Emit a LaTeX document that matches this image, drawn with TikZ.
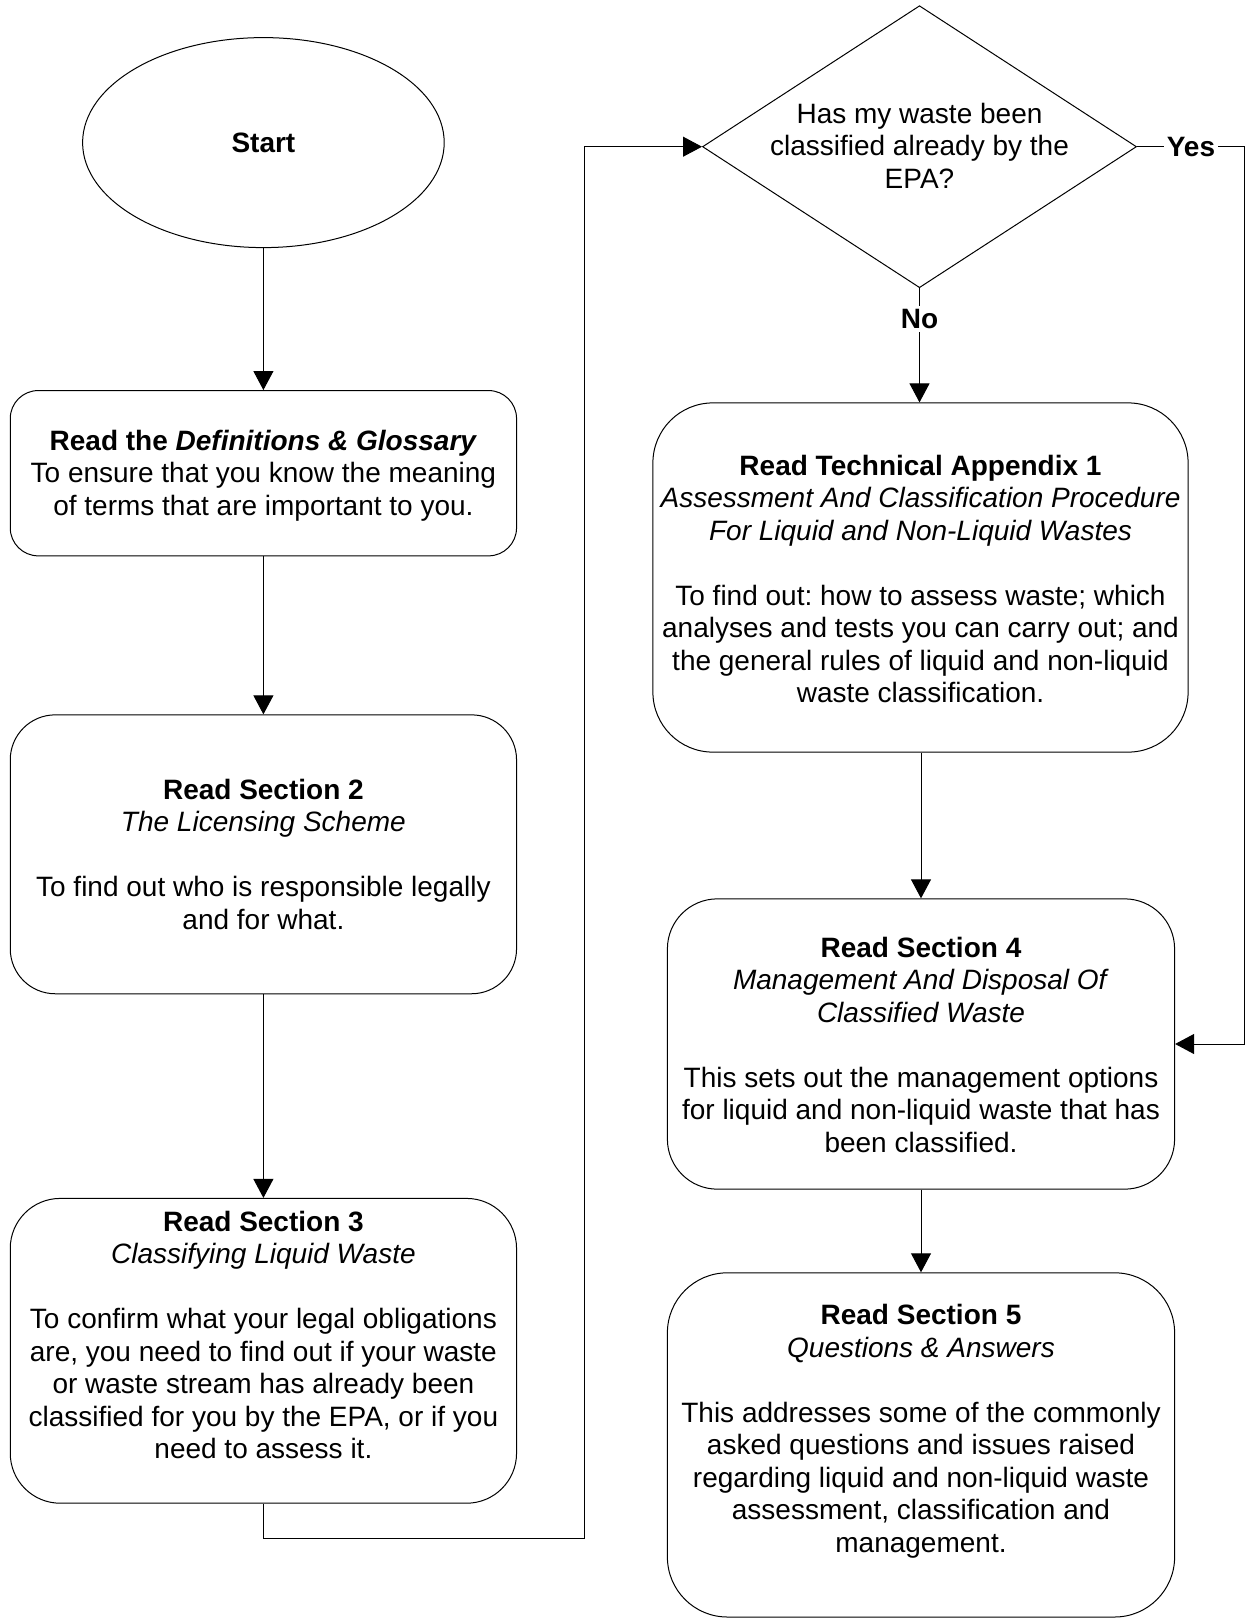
\documentclass[tikz,border=0pt]{standalone}
\usepackage{fontspec}
\setmainfont{Liberation Sans}
\usetikzlibrary{shapes.geometric,arrows.meta}
\frenchspacing
\begin{document}
\begin{tikzpicture}[x=1pt,y=-1pt,
  every node/.style={font=\fontsize{28}{32.5}\selectfont},
  stepbox/.style={draw=black,line width=1pt,rectangle,inner sep=0pt},
  txt/.style={align=center,inner sep=0pt},
  arr/.style={draw=black,line width=1pt,-{Triangle[length=19pt,width=20pt]}},
  lbl/.style={fill=white,inner sep=3pt,font=\fontsize{28}{32.5}\selectfont\bfseries}]
\useasboundingbox (0,0) rectangle (1247,1620);

% start terminal
\node[draw=black,line width=1pt,ellipse,inner sep=0pt,minimum width=361.6pt,minimum height=210pt,
      font=\fontsize{28}{32.5}\selectfont\bfseries] (start) at (263.4,142.6) {Start};

% left column
\node[stepbox,rounded corners=28pt,minimum width=506.3pt,minimum height=165.3pt] (b1) at (263.4,473.2) {};
\node[txt] (b1t) at (263.4,475.5) {\textbf{Read the \textit{Definitions \& Glossary}}\\
  To ensure that you know the meaning\\ of terms that are important to you.};

\node[stepbox,rounded corners=45pt,minimum width=506.3pt,minimum height=278.9pt] (b2) at (263.4,854.3) {};
\node[txt] (b2t) at (263.4,854) {\textbf{Read Section 2}\\ \textit{The Licensing Scheme}\\[32.5pt]
  To find out who is responsible legally\\ and for what.};

\node[stepbox,rounded corners=50pt,minimum width=506.3pt,minimum height=304.8pt] (b3) at (263.4,1350.8) {};
\node[txt] (b3t) at (263.4,1335) {\textbf{Read Section 3}\\ \textit{Classifying Liquid Waste}\\[32.5pt]
  To confirm what your legal obligations\\ are, you need to find out if your waste\\
  or waste stream has already been\\ classified for you by the EPA, or if you\\ need to assess it.};

% decision
\node[draw=black,line width=1pt,diamond,inner sep=0pt,minimum width=434pt,minimum height=282pt] (dia) at (919.5,146.7) {};
\node[txt] (diat) at (919.5,145.7) {Has my waste been\\ classified already by the\\ EPA?};

% right column
\node[stepbox,rounded corners=60pt,minimum width=535.2pt,minimum height=349.2pt] (ta) at (920.5,577.5) {};
\node[txt] (tat) at (920.5,579) {\textbf{Read Technical Appendix 1}\\
  \textit{Assessment And Classification Procedure}\\ \textit{For Liquid and Non-Liquid Wastes}\\[32.5pt]
  To find out: how to assess waste; which\\ analyses and tests you can carry out; and\\
  the general rules of liquid and non-liquid\\ waste classification.};

\node[stepbox,rounded corners=50pt,minimum width=507.2pt,minimum height=290.3pt] (b4) at (921,1044) {};
\node[txt] (b4t) at (921,1044.5) {\textbf{Read Section 4}\\ \textit{Management And Disposal Of}\\
  \textit{Classified Waste}\\[32.5pt]
  This sets out the management options\\ for liquid and non-liquid waste that has\\ been classified.};

\node[stepbox,rounded corners=60pt,minimum width=507.2pt,minimum height=344.2pt] (b5) at (921,1444.9) {};
\node[txt] (b5t) at (921,1431) {\textbf{Read Section 5}\\ \textit{Questions \& Answers}\\[32.5pt]
  This addresses some of the commonly\\ asked questions and issues raised\\
  regarding liquid and non-liquid waste\\ assessment, classification and\\ management.};

% connector bends
\coordinate (lo) at (584.7,1538.3);
\coordinate (yc) at (1244.9,146.7);

% connectors
\draw[arr] (start.south) -- (b1.north);
\draw[arr] (b1.south) -- (b2.north);
\draw[arr] (b2.south) -- (b3.north);
\draw[arr] (b3.south) |- (lo) |- (dia.west);
\draw[arr] (dia.south) -- node[lbl,pos=0.27] {No} (ta.north -| dia.south);
\draw[arr] (dia.east) -- node[lbl,pos=0.5] {Yes} (yc) |- (b4.east);
\draw[arr] (ta.south -| b4.north) -- (b4.north);
\draw[arr] (b4.south) -- (b5.north);
\end{tikzpicture}
\end{document}
